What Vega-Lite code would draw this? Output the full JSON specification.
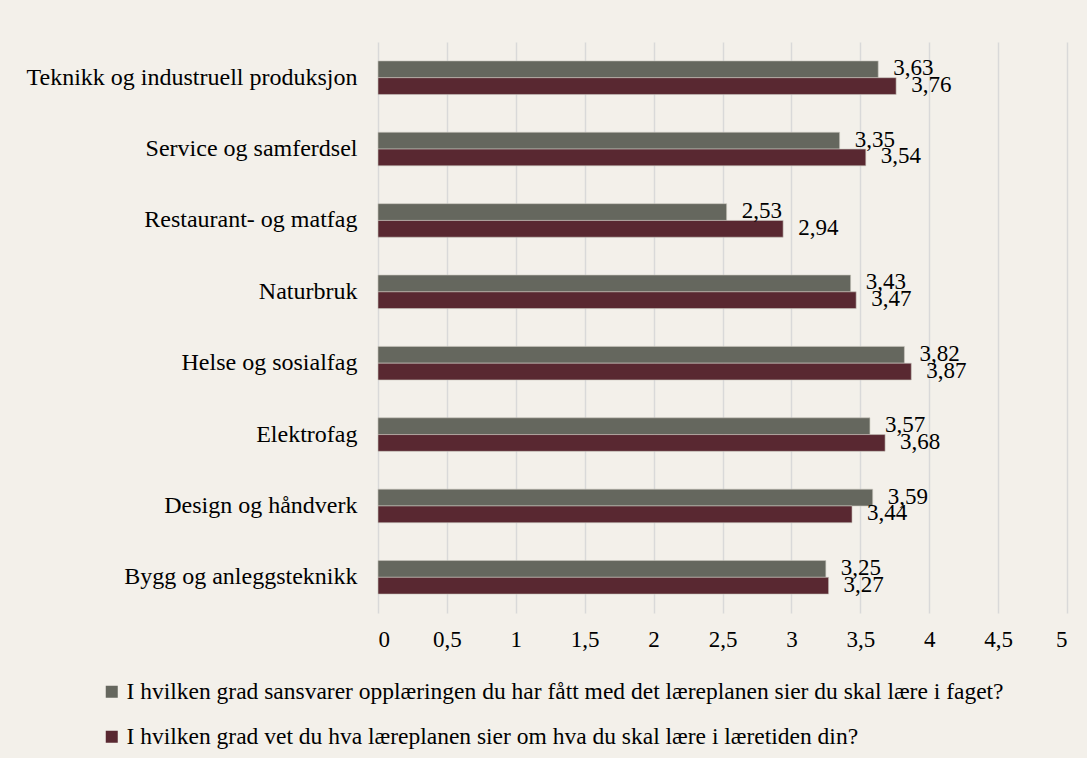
{
  "$schema": "https://vega.github.io/schema/vega-lite/v6.json",
  "width": 689,
  "height": 571,
  "autosize": "none",
  "padding": {"left": 378, "top": 42, "right": 20, "bottom": 145},
  "background": "#f3f0ea",
  "config": {
    "locale": {"number": {"decimal": ",", "thousands": " ", "grouping": [3], "currency": ["", " kr"]}},
    "view": {"stroke": null},
    "font": "Liberation Serif"
  },
  "data": {
    "values": [
      {"kategori": "Teknikk og industruell produksjon", "serie": "A", "verdi": 3.63},
      {"kategori": "Teknikk og industruell produksjon", "serie": "B", "verdi": 3.76},
      {"kategori": "Service og samferdsel", "serie": "A", "verdi": 3.35},
      {"kategori": "Service og samferdsel", "serie": "B", "verdi": 3.54},
      {"kategori": "Restaurant- og matfag", "serie": "A", "verdi": 2.53},
      {"kategori": "Restaurant- og matfag", "serie": "B", "verdi": 2.94},
      {"kategori": "Naturbruk", "serie": "A", "verdi": 3.43},
      {"kategori": "Naturbruk", "serie": "B", "verdi": 3.47},
      {"kategori": "Helse og sosialfag", "serie": "A", "verdi": 3.82},
      {"kategori": "Helse og sosialfag", "serie": "B", "verdi": 3.87},
      {"kategori": "Elektrofag", "serie": "A", "verdi": 3.57},
      {"kategori": "Elektrofag", "serie": "B", "verdi": 3.68},
      {"kategori": "Design og håndverk", "serie": "A", "verdi": 3.59},
      {"kategori": "Design og håndverk", "serie": "B", "verdi": 3.44},
      {"kategori": "Bygg og anleggsteknikk", "serie": "A", "verdi": 3.25},
      {"kategori": "Bygg og anleggsteknikk", "serie": "B", "verdi": 3.27}
    ]
  },
  "encoding": {
    "y": {
      "field": "kategori",
      "type": "nominal",
      "sort": null,
      "scale": {"paddingInner": 0.53, "paddingOuter": 0.265},
      "axis": {
        "title": null,
        "domain": false,
        "ticks": false,
        "grid": false,
        "labelFontSize": 24,
        "labelColor": "#000000",
        "labelPadding": 21,
        "labelLimit": 400
      }
    },
    "yOffset": {"field": "serie", "type": "nominal", "sort": ["A", "B"], "scale": {"paddingInner": 0, "paddingOuter": 0}},
    "x": {
      "field": "verdi",
      "type": "quantitative",
      "scale": {"domain": [0, 5], "nice": false},
      "axis": {
        "title": null,
        "values": [0, 0.5, 1, 1.5, 2, 2.5, 3, 3.5, 4, 4.5, 5],
        "format": "~g",
        "domain": false,
        "ticks": false,
        "grid": true,
        "gridColor": "#d9d9d9",
        "gridWidth": 1.5,
        "labelFontSize": 23,
        "labelColor": "#000000",
        "labelPadding": 15
      }
    }
  },
  "layer": [
    {
      "mark": {"type": "bar", "stroke": "#c9c6bd", "strokeWidth": 0.6},
      "encoding": {
        "color": {
          "field": "serie",
          "type": "nominal",
          "scale": {"domain": ["A", "B"], "range": ["#65675e", "#592831"]},
          "legend": {
            "orient": "none",
            "legendX": -278,
            "legendY": 638,
            "title": null,
            "direction": "vertical",
            "symbolType": "square",
            "symbolSize": 144,
            "symbolStrokeWidth": 0,
            "labelFontSize": 23.5,
            "labelColor": "#000000",
            "labelLimit": 1000,
            "labelOffset": 3,
            "rowPadding": 20,
            "labelExpr": "datum.value == 'A' ? 'I hvilken grad sansvarer opplæringen du har fått med det læreplanen sier du skal lære i faget?' : 'I hvilken grad vet du hva læreplanen sier om hva du skal lære i læretiden din?'"
          }
        }
      }
    },
    {
      "mark": {"type": "text", "align": "left", "baseline": "middle", "dx": 15, "dy": -1, "fontSize": 23, "color": "#000000"},
      "encoding": {
        "text": {"field": "verdi", "type": "quantitative", "format": ".2f"}
      }
    }
  ]
}
